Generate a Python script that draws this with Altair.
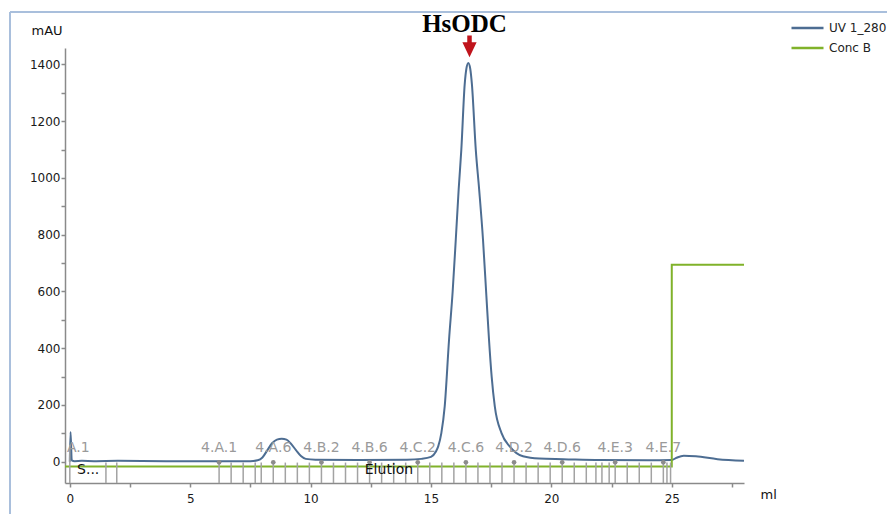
import altair as alt
import pandas as pd

# ---------------- data ----------------
uv_ml = [0.0, 0.03, 0.08, 0.2, 0.5, 1.0, 2.0, 4.0, 6.0, 7.5, 7.8, 8.0, 8.2, 8.4, 8.6, 8.8,
         9.0, 9.2, 9.4, 9.6, 9.8, 10.2, 12.0, 14.0, 14.6, 15.0, 15.2, 15.3, 15.43, 15.57,
         15.75, 15.9, 16.03, 16.15, 16.26, 16.4, 16.47, 16.55, 16.63, 16.7, 16.86, 17.0,
         17.16, 17.3, 17.41, 17.52, 17.65, 17.93, 18.27, 18.82, 19.5, 20.5, 22.0, 24.0,
         25.0, 25.2, 25.5, 26.0, 26.9, 28.0]
uv_mau = [0, 105, 5, 2, 3, 2, 3, 2, 2, 2, 5, 15, 40, 65, 78, 81,
          78, 62, 40, 20, 10, 7, 6, 7, 10, 17, 35, 54, 101, 195,
          430, 600, 783, 960, 1100, 1330, 1385, 1405, 1385, 1330, 1100, 960,
          783, 585, 430, 300, 195, 101, 54, 19, 11, 9, 6, 5,
          6, 14, 21, 19, 9, 3]

concb_ml = [-0.2, 25.0, 25.0, 28.0]
concb_val = [-17, -17, 694, 694]

frac_tick_ml = [0.0, 1.5, 1.95, 6.2, 6.7, 7.2, 7.7, 7.95, 8.45, 8.95, 9.45, 9.95, 10.45,
                10.95, 11.45, 11.95, 12.45, 12.95, 13.45, 13.95, 14.45, 14.95, 15.45,
                15.95, 16.45, 16.95, 17.45, 17.95, 18.45, 18.95, 19.45, 19.95, 20.45,
                20.95, 21.45, 21.85, 22.1, 22.4, 22.65, 23.15, 23.65, 24.15, 24.65,
                24.8, 24.95]

frac_labels = ["A.1", "4.A.1", "4.A.6", "4.B.2", "4.B.6", "4.C.2", "4.C.6", "4.D.2",
               "4.D.6", "4.E.3", "4.E.7"]
frac_label_ml = [0.35, 6.2, 8.45, 10.45, 12.45, 14.45, 16.45, 18.45, 20.45, 22.65, 24.65]

phase_labels = ["S...", "Elution"]
phase_ml = [0.3, 12.25]

peak_name = "HsODC"
peak_ml = 16.6

x_ticks = [0, 2.5, 5, 7.5, 10, 12.5, 15, 17.5, 20, 22.5, 25, 27.5]
y_ticks = [0, 100, 200, 300, 400, 500, 600, 700, 800, 900, 1000, 1100, 1200, 1300, 1400]

# ---------------- styling ----------------
BLUE = "#4d6d92"
GREEN = "#80b22a"
GRAY = "#a3a3a3"
AXIS_GRAY = "#8a8a8a"
RED = "#c0141c"
FONT = "DejaVu Sans"

X_SCALE = alt.Scale(domain=[-0.2, 28], nice=False, zero=False)
Y_SCALE = alt.Scale(domain=[-75, 1458], nice=False, zero=False)
COLOR_SCALE = alt.Scale(domain=["UV 1_280", "Conc B"], range=[BLUE, GREEN])

uv_df = pd.DataFrame({"ml": uv_ml, "mAU": uv_mau, "series": "UV 1_280",
                      "order": list(range(len(uv_ml)))})
cb_df = pd.DataFrame({"ml": concb_ml, "mAU": concb_val, "series": "Conc B",
                      "order": list(range(len(concb_ml)))})

legend = alt.Legend(title=None, orient="none", legendX=725, legendY=-27,
                    symbolType="stroke", symbolSize=1024, symbolStrokeWidth=2.5,
                    labelFont=FONT, labelFontSize=12, labelColor="#222222",
                    labelOffset=4, padding=0, rowPadding=6, clipHeight=14)

x_axis = alt.Axis(values=x_ticks, format="d",
                  labelExpr="datum.value % 5 == 0 ? datum.label : ''",
                  title="ml", titleX=695, titleY=15, titleAlign="left",
                  titleBaseline="alphabetic", titleFontWeight="normal",
                  titleFont=FONT, titleFontSize=13, titleColor="#111111",
                  labelFont=FONT, labelFontSize=12, labelColor="#1a1a1a",
                  labelPadding=6, tickSize=4, grid=False,
                  domainColor=AXIS_GRAY, tickColor=AXIS_GRAY, domainWidth=1.5, tickWidth=1.5)
y_axis = alt.Axis(values=y_ticks, format="d",
                  labelExpr="datum.value % 200 == 0 ? datum.label : ''",
                  title="mAU", titleAngle=0, titleX=-34, titleY=-14, titleAlign="left",
                  titleBaseline="alphabetic", titleFontWeight="normal",
                  titleFont=FONT, titleFontSize=13, titleColor="#111111",
                  labelFont=FONT, labelFontSize=12, labelColor="#1a1a1a",
                  labelPadding=1, tickSize=4, grid=False,
                  domainColor=AXIS_GRAY, tickColor=AXIS_GRAY, domainWidth=1.5, tickWidth=1.5)


def X(field):
    return alt.X(field, scale=X_SCALE, axis=x_axis)


def Y(field):
    return alt.Y(field, scale=Y_SCALE, axis=y_axis)


uv_line = alt.Chart(uv_df).mark_line(strokeWidth=2, interpolate="monotone").encode(
    x=X("ml:Q"), y=Y("mAU:Q"),
    color=alt.Color("series:N", scale=COLOR_SCALE, legend=legend),
    order="order:Q",
)
cb_line = alt.Chart(cb_df).mark_line(strokeWidth=2).encode(
    x=X("ml:Q"), y=Y("mAU:Q"),
    color=alt.Color("series:N", scale=COLOR_SCALE, legend=legend),
    order="order:Q",
)

tick_df = pd.DataFrame({"ml": frac_tick_ml})
tick_df["bottom"] = -75
tick_df["top"] = [60 if v == 0 else -3 for v in frac_tick_ml]
frac_ticks = alt.Chart(tick_df).mark_rule(color=GRAY, strokeWidth=1.5).encode(
    x=X("ml:Q"), y=Y("bottom:Q"), y2="top:Q",
)

lab_df = pd.DataFrame({"ml": frac_label_ml, "label": frac_labels})
lab_df["y"] = 48
lab_df["dot_y"] = -2
frac_text = alt.Chart(lab_df).mark_text(font=FONT, fontSize=14, color="#9a9a9a",
                                        baseline="middle", align="center").encode(
    x=X("ml:Q"), y=Y("y:Q"), text="label:N",
)
frac_dots = alt.Chart(lab_df[lab_df["label"] != "A.1"]).mark_point(
    filled=True, size=22, color="#8c8c8c", opacity=1).encode(
    x=X("ml:Q"), y=Y("dot_y:Q"),
)

phase_df = pd.DataFrame({"ml": phase_ml, "label": phase_labels})
phase_df["y"] = -29
phase_text = alt.Chart(phase_df).mark_text(font=FONT, fontSize=14, color="#111111",
                                           baseline="middle", align="left").encode(
    x=X("ml:Q"), y=Y("y:Q"), text="label:N",
)

peak_df = pd.DataFrame({"ml": [peak_ml], "label": [peak_name]})
peak_df["text_y"] = 1514
peak_df["arrow_y"] = 1452
peak_text = alt.Chart(peak_df).mark_text(font="Liberation Serif", fontSize=25,
                                         fontWeight="bold", color="#000000",
                                         baseline="alphabetic", align="center",
                                         dx=-5).encode(
    x=X("ml:Q"), y=Y("text_y:Q"), text="label:N",
)
arrow_path = "M-0.3,-1.9 L0.3,-1.9 L0.3,-1 L0.95,-1 L0,1 L-0.95,-1 L-0.3,-1 Z"
peak_arrow = alt.Chart(peak_df).mark_point(shape=arrow_path, size=225, filled=True,
                                           color=RED, opacity=1, strokeWidth=0).encode(
    x=X("ml:Q"), y=Y("arrow_y:Q"),
)

# screenshot frame (top and left edges)
frame_top = alt.Chart(peak_df).mark_rule(color="#a9bfdc", strokeWidth=2).encode(
    x=alt.value(-55), x2=alt.value(830), y=alt.value(-36))
frame_left = alt.Chart(peak_df).mark_rule(color="#a9bfdc", strokeWidth=2).encode(
    x=alt.value(-55), y=alt.value(-36), y2=alt.value(480))

chart = alt.layer(
    uv_line, cb_line, frac_ticks, frac_dots, frac_text, phase_text,
    peak_text, peak_arrow, frame_top, frame_left,
).properties(
    width=679, height=435,
    autosize=alt.AutoSizeParams(type="none"),
    padding={"left": 57, "top": 40, "right": 143, "bottom": 31},
).configure_view(stroke=None)

chart.save("out.html", embed_options={"renderer": "svg", "actions": False})
